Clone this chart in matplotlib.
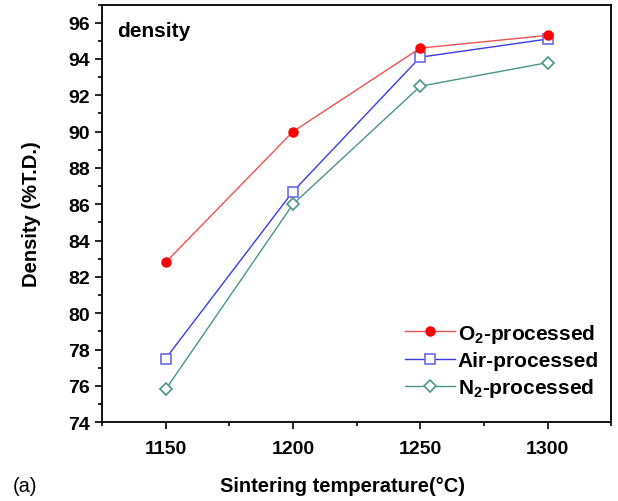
import matplotlib
matplotlib.use('Agg')
import matplotlib.pyplot as plt
from matplotlib.ticker import MultipleLocator

plt.rcParams['font.family'] = ['Liberation Sans', 'DejaVu Sans']
plt.rcParams['mathtext.fontset'] = 'custom'
plt.rcParams['mathtext.bf'] = 'Liberation Sans:bold'
plt.rcParams['mathtext.rm'] = 'Liberation Sans:bold'

temperature = [1150, 1200, 1250, 1300]
o2_density = [82.8, 90.0, 94.6, 95.3]
air_density = [77.5, 86.7, 94.1, 95.1]
n2_density = [75.8, 86.0, 92.5, 93.8]

fig = plt.figure(figsize=(6.18, 5.02), dpi=100)
ax = fig.add_axes([0.165, 0.157, 0.824, 0.832])

ax.plot(temperature, o2_density, color='#f05050', lw=1.0, marker='o', ms=6.5,
        mfc='#ff0000', mec='#ff0000', label=r'O$_\mathbf{2}$-processed', zorder=4)
ax.plot(temperature, air_density, color='#3a3ae8', lw=1.0, marker='s', ms=6.5,
        mfc='white', mec='#6a6ae8', mew=1.2, label='Air-processed', zorder=3)
ax.plot(temperature, n2_density, color='#4a9488', lw=1.0, marker='D', ms=6,
        mfc='white', mec='#4a9488', mew=1.2, label=r'N$_\mathbf{2}$-processed', zorder=3)

ax.set_xlim(1125, 1325)
ax.set_ylim(74, 97)
ax.set_xticks(temperature)
ax.set_yticks(range(74, 97, 2))
ax.xaxis.set_minor_locator(MultipleLocator(25))
ax.yaxis.set_minor_locator(MultipleLocator(1))
ax.tick_params(which='both', direction='out', top=False, right=False, width=1.2)
ax.tick_params(which='major', length=5, labelsize=14)
ax.tick_params(which='minor', length=3)
ax.tick_params(axis='x', pad=8)
for lbl in ax.get_xticklabels() + ax.get_yticklabels():
    lbl.set_fontweight('bold')
for sp in ax.spines.values():
    sp.set_linewidth(1.3)

ax.set_ylabel('Density (%T.D.)', fontsize=14.5, fontweight='bold', labelpad=20)
fig.text(0.555, 0.03, 'Sintering temperature(°C)', fontsize=14.5, fontweight='bold',
         ha='center', va='center')
fig.text(0.02, 0.03, '(a)', fontsize=14.5, ha='left', va='center')
ax.text(0.03, 0.96, 'density', transform=ax.transAxes, fontsize=15,
        fontweight='bold', ha='left', va='top')

ax.legend(loc='lower right', bbox_to_anchor=(1.0, 0.025), frameon=False,
          prop={'size': 15, 'weight': 'bold'}, handlelength=2.4,
          handletextpad=0.1, labelspacing=0.3, borderaxespad=0.2)

fig.savefig('out.png', dpi=100)
